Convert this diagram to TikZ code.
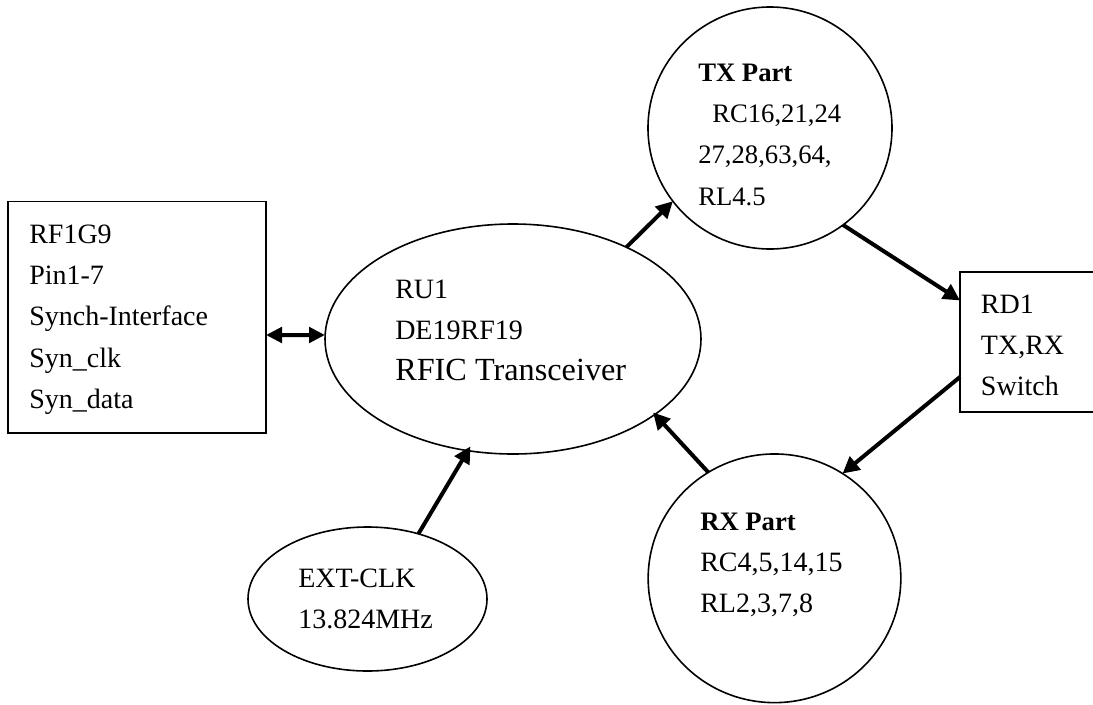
\documentclass[tikz,border=0pt]{standalone}
\usepackage{fontspec}
\setmainfont{Liberation Serif}
\usetikzlibrary{shapes.geometric,arrows.meta}
\tikzset{
  outl/.style={draw=black,line width=1.2pt,fill=none,inner sep=0pt,outer sep=0pt},
  conn/.style={line width=3pt,draw=black,-{Triangle[length=12.5pt,width=12.5pt]}},
  conn2/.style={line width=3pt,draw=black,{Triangle[length=12pt,width=11.5pt]}-{Triangle[length=12pt,width=11.5pt]}},
  txt/.style={font=\fontsize{21pt}{31pt}\selectfont,align=left,anchor=north west,inner sep=0pt},
  txtsmall/.style={txt,font=\fontsize{20pt}{31pt}\selectfont}
}
\newcommand{\fl}{\rule{0pt}{15pt}}
\begin{document}
\begin{tikzpicture}[x=0.75pt,y=-0.75pt]
\useasboundingbox (0,0) rectangle (1093,704);
\node[outl,rectangle,minimum width=193.5pt,minimum height=173.5pt] (rf) at (137,317.3) {};
\node[outl,ellipse,minimum width=282pt,minimum height=172.5pt] (ru) at (513,339) {};
\node[outl,ellipse,minimum width=183pt,minimum height=181.5pt] (tx) at (770,128) {};
\node[outl,ellipse,minimum width=189.5pt,minimum height=186.5pt] (rx) at (774.5,578.3) {};
\node[outl,ellipse,minimum width=179.25pt,minimum height=108pt] (ext) at (367.5,599) {};
\node[outl,rectangle,minimum width=112.5pt,minimum height=105pt] (rd) at (1035,342) {};
\node[txt] (t1) at (29,223) {\fl RF1G9\\Pin1-7\\Synch-Interface\\Syn\_clk\\Syn\_data};
\node[txt] (t2) at (395,278) {\fl RU1\\DE19RF19\\{\fontsize{24.2pt}{31pt}\selectfont RFIC Transceiver}};
\node[txtsmall] (t3) at (698,61) {\fl\textbf{TX Part}\\\hspace*{10.5pt}RC16,21,24\\27,28,63,64,\\RL4.5};
\node[txt] (t4) at (980.7,293) {\fl RD1\\TX,RX\\Switch};
\node[txt] (t5) at (700,510) {\fl{\fontsize{20pt}{31pt}\selectfont\textbf{RX Part}}\\RC4,5,14,15\\RL2,3,7,8};
\node[txt] (t6) at (298,567) {\fl EXT-CLK\\13.824MHz};
\draw[conn2] ([yshift=-13.275pt]rf.east) -- ([yshift=3pt]ru.west);
\draw[conn] (ru.39) -- (tx.217);
\draw[conn] (tx.-53.3) -- (rd.151.93);
\draw[conn] (rd.205) -- (rx.57);
\draw[conn,shorten >=-2pt] (rx.122.7) -- (ru.-28.9);
\draw[conn,shorten >=-3.7pt] (ext.52.9) -- (ru.248.9);
\end{tikzpicture}
\end{document}
